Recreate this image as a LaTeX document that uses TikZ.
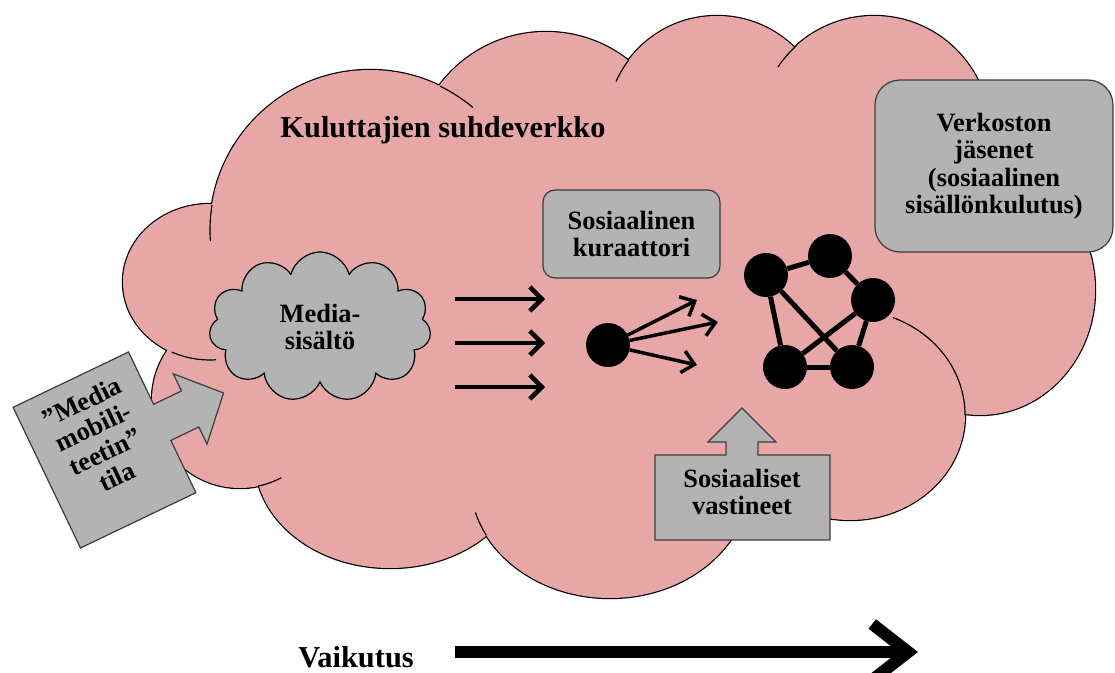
\documentclass[tikz,border=0pt]{standalone}
\usepackage{fontspec}
\setmainfont{Liberation Serif}
\usetikzlibrary{arrows.meta,shapes.symbols}
\definecolor{cloudpink}{RGB}{232,167,167}
\definecolor{boxgray}{RGB}{179,179,179}
\definecolor{edgegray}{RGB}{60,60,60}

\begin{document}
\begin{tikzpicture}[
  txt/.style={font=\bfseries\fontsize{26.5}{27.5}\selectfont, align=center},
  bigtxt/.style={font=\bfseries\fontsize{30.5}{31}\selectfont},
  graybox/.style={draw=edgegray, fill=boxgray, line width=1.2bp, rounded corners=12bp},
  callout/.style={draw=edgegray, fill=boxgray, line width=1.2bp, line join=miter},
  cloudline/.style={line width=1.2bp},
  dot/.style={circle, fill=black, minimum size=44bp, inner sep=0pt},
  link/.style={line width=5bp},
  flow/.style={line width=4.5bp, -{Straight Barb[length=12bp,width=24bp]}},
  fan/.style={line width=3.5bp, -{Straight Barb[length=12bp,width=22bp]}},
  bigflow/.style={line width=12bp, -{Straight Barb[length=36bp,width=56bp]}}]
\path[use as bounding box, fill=white] (0bp,0bp) rectangle (1115bp,-673bp);
\foreach \cx/\cy/\rx/\ry in {210/282/87/78, 240/400/88/88, 370/230/160/160, 546/165/133/133, 717/126.5/110.5/110.5, 874/132/116/116, 980/290/115/125, 850/415/115/105, 610/480/140/118, 390/460/135/108}
  \draw[line width=2.4bp, fill=cloudpink] (\cx bp,-\cy bp) ellipse [x radius=\rx bp, y radius=\ry bp];
\foreach \cx/\cy/\rx/\ry in {210/282/87/78, 240/400/88/88, 370/230/160/160, 546/165/133/133, 717/126.5/110.5/110.5, 874/132/116/116, 980/290/115/125, 850/415/115/105, 610/480/140/118, 390/460/135/108, 620/330/320/170}
  \fill[cloudpink] (\cx bp,-\cy bp) ellipse [x radius=\rx bp, y radius=\ry bp];
\draw[cloudline] (370bp,-230bp) ++(64:160bp) arc[start angle=64, end angle=50, radius=160bp];
\draw[cloudline] (717bp,-126.5bp) ++(143:110.5bp) arc[start angle=143, end angle=156, radius=110.5bp];
\draw[cloudline] (874bp,-132bp) ++(132:116bp) arc[start angle=132, end angle=146, radius=116bp];
\draw[cloudline] (370bp,-230bp) ++(171:160bp) arc[start angle=171, end angle=184, radius=160bp];
\draw[cloudline] (210bp,-282bp) ++(244:87bp and 78bp) arc[start angle=244, end angle=274, x radius=87bp, y radius=78bp];
\draw[cloudline] (850bp,-415bp) ++(0:115bp and 105bp) arc[start angle=0, end angle=68, x radius=115bp, y radius=105bp];
\draw[cloudline] (240bp,-400bp) ++(-78:88bp) arc[start angle=-78, end angle=-62, radius=88bp];
\draw[cloudline] (610bp,-480bp) ++(208:140bp and 118bp) arc[start angle=208, end angle=196, x radius=140bp, y radius=118bp];

\node (title) at (443bp,-130bp) [bigtxt] {Kuluttajien suhdeverkko};
\node (media) at (320bp,-327bp) [cloud, cloud puffs=11, aspect=1.5, draw=black, fill=boxgray, line width=1.2bp, minimum width=222bp, minimum height=150bp, txt] {Media-\\sisältö};
\foreach \y [count=\i] in {299,343,387} {
  \coordinate (hs\i) at (455bp,-\y bp);
  \coordinate (he\i) at (545bp,-\y bp);
  \draw[flow] (hs\i) -- (he\i);
}
\node (kur) at (631.5bp,-234bp) [graybox, txt, minimum width=177bp, minimum height=88bp] {Sosiaalinen\\kuraattori};
\node (cur) at (608bp,-345bp) [dot] {};
\coordinate (f1) at (697bp,-300bp);
\coordinate (f2) at (718bp,-322bp);
\coordinate (f3) at (697bp,-365bp);
\foreach \f in {f1,f2,f3} \draw[fan] (cur) -- (\f);
\node (n1) at (766bp,-275bp) [dot] {};
\node (n2) at (830bp,-256bp) [dot] {};
\node (n3) at (873bp,-300bp) [dot] {};
\node (n4) at (785bp,-367bp) [dot] {};
\node (n5) at (852bp,-367bp) [dot] {};
\foreach \a/\b in {n1/n2,n2/n3,n1/n4,n1/n5,n3/n4,n3/n5,n4/n5} \draw[link] (\a) -- (\b);
\node (jas) at (994bp,-166bp) [graybox, txt, rounded corners=25bp, minimum width=238bp, minimum height=172bp] {Verkoston\\jäsenet\\(sosiaalinen\\sisällönkulutus)};

\draw[callout] (655bp,-455bp) -- (726bp,-455bp) -- (726bp,-442bp) -- (708bp,-442bp) -- (742bp,-408bp) -- (776bp,-442bp) -- (758bp,-442bp) -- (758bp,-455bp) -- (830bp,-455bp) -- (830bp,-540bp) -- (655bp,-540bp) -- cycle;
\node (vast) at (742bp,-492bp) [txt] {Sosiaaliset\\vastineet};

\begin{scope}[shift={(104.5bp,-450bp)}, rotate=25.6]
\draw[callout] (-64bp,78bp) -- (64bp,78bp) -- (64bp,20bp) -- (95bp,20bp) -- (95bp,39bp) -- (132bp,0bp) -- (95bp,-39bp) -- (95bp,-20bp) -- (64bp,-20bp) -- (64bp,-78bp) -- (-64bp,-78bp) -- cycle;
\node (mob) at (0bp,12bp) [txt, rotate=25.6] {”Media\\mobili-\\teetin”\\tila};
\end{scope}

\node (vaik) at (356bp,-657bp) [bigtxt] {Vaikutus};
\coordinate (vs) at (455bp,-652bp);
\coordinate (ve) at (918bp,-652bp);
\draw[bigflow] (vs) -- (ve);
\end{tikzpicture}
\end{document}
